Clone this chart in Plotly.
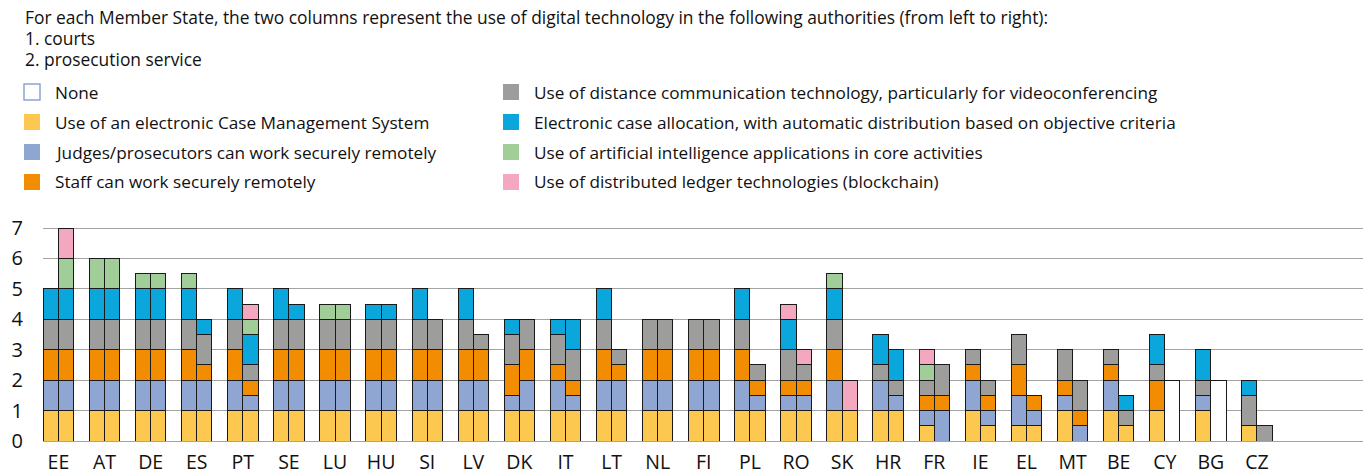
import plotly.graph_objects as go

# Member States, left to right
countries = ["EE", "AT", "DE", "ES", "PT", "SE", "LU", "HU", "SI", "LV", "DK", "IT", "LT", "NL",
             "FI", "PL", "RO", "SK", "HR", "FR", "IE", "EL", "MT", "BE", "CY", "BG", "CZ"]

# column 1 = courts, column 2 = prosecution service
cms_courts = [1, 1, 1, 1, 1, 1, 1, 1, 1, 1, 1, 1, 1, 1, 1, 1, 1, 1, 1, 0.5, 1, 0.5, 1, 1, 1, 1, 0.5]
cms_pros = [1, 1, 1, 1, 1, 1, 1, 1, 1, 1, 1, 1, 1, 1, 1, 1, 1, 1, 1, 0, 0.5, 0.5, 0, 0.5, 0, 0, 0]

judges_courts = [1, 1, 1, 1, 1, 1, 1, 1, 1, 1, 0.5, 1, 1, 1, 1, 1, 0.5, 1, 1, 0.5, 1, 1, 0.5, 1, 0, 0.5, 0]
judges_pros = [1, 1, 1, 1, 0.5, 1, 1, 1, 1, 1, 1, 0.5, 1, 1, 1, 0.5, 0.5, 0, 0.5, 1, 0.5, 0.5, 0.5, 0, 0, 0, 0]

staff_courts = [1, 1, 1, 1, 1, 1, 1, 1, 1, 1, 1, 0.5, 1, 1, 1, 1, 0.5, 1, 0, 0.5, 0.5, 1, 0.5, 0.5, 1, 0, 0]
staff_pros = [1, 1, 1, 0.5, 0.5, 1, 1, 1, 1, 1, 1, 0.5, 0.5, 1, 1, 0.5, 0.5, 0, 0, 0.5, 0.5, 0.5, 0.5, 0, 0, 0, 0]

distance_courts = [1, 1, 1, 1, 1, 1, 1, 1, 1, 1, 1, 1, 1, 1, 1, 1, 1, 1, 0.5, 0.5, 0.5, 1, 1, 0.5, 0.5, 0.5, 1]
distance_pros = [1, 1, 1, 1, 0.5, 1, 1, 1, 1, 0.5, 1, 1, 0.5, 1, 1, 0.5, 0.5, 0, 0.5, 1, 0.5, 0, 1, 0.5, 0, 0, 0.5]

ecase_courts = [1, 1, 1, 1, 1, 1, 0, 0.5, 1, 1, 0.5, 0.5, 1, 0, 0, 1, 1, 1, 1, 0, 0, 0, 0, 0, 1, 1, 0.5]
ecase_pros = [1, 1, 1, 0.5, 1, 0.5, 0, 0.5, 0, 0, 0, 1, 0, 0, 0, 0, 0, 0, 1, 0, 0, 0, 0, 0.5, 0, 0, 0]

ai_courts = [0, 1, 0.5, 0.5, 0, 0, 0.5, 0, 0, 0, 0, 0, 0, 0, 0, 0, 0, 0.5, 0, 0.5, 0, 0, 0, 0, 0, 0, 0]
ai_pros = [1, 1, 0.5, 0, 0.5, 0, 0.5, 0, 0, 0, 0, 0, 0, 0, 0, 0, 0, 0, 0, 0, 0, 0, 0, 0, 0, 0, 0]

dlt_courts = [0, 0, 0, 0, 0, 0, 0, 0, 0, 0, 0, 0, 0, 0, 0, 0, 0.5, 0, 0, 0.5, 0, 0, 0, 0, 0, 0, 0]
dlt_pros = [1, 0, 0, 0, 0.5, 0, 0, 0, 0, 0, 0, 0, 0, 0, 0, 0, 0.5, 1, 0, 0, 0, 0, 0, 0, 0, 0, 0]

none_courts = [0] * 27
none_pros = [0, 0, 0, 0, 0, 0, 0, 0, 0, 0, 0, 0, 0, 0, 0, 0, 0, 0, 0, 0, 0, 0, 0, 0, 2, 2, 0]

series = [
    ("Use of an electronic Case Management System", cms_courts, cms_pros, "#fdc84f"),
    ("Judges/prosecutors can work securely remotely", judges_courts, judges_pros, "#8fa6d2"),
    ("Staff can work securely remotely", staff_courts, staff_pros, "#f28c00"),
    ("Use of distance communication technology, particularly for videoconferencing",
     distance_courts, distance_pros, "#9d9d9c"),
    ("Electronic case allocation, with automatic distribution based on objective criteria",
     ecase_courts, ecase_pros, "#0aa6dc"),
    ("Use of artificial intelligence applications in core activities", ai_courts, ai_pros, "#a0cd98"),
    ("Use of distributed ledger technologies (blockchain)", dlt_courts, dlt_pros, "#f4a8bf"),
    ("None", none_courts, none_pros, "#ffffff"),
]

FONT = "Open Sans"
COL_W = 0.33
OFF = COL_W / 2
W, H = 1368, 475
ML, MR, MT, MB = 43, 5, 225, 34

fig = go.Figure()
n = len(countries)
for name, court, pros, color in series:
    xs = [i - OFF for i in range(n)] + [i + OFF for i in range(n)]
    ys = [v if v else None for v in court] + [v if v else None for v in pros]
    fig.add_trace(go.Bar(
        x=xs, y=ys, width=COL_W, name=name,
        marker=dict(color=color, line=dict(color="#1a1a1a", width=1)),
        showlegend=False,
    ))


# legend drawn by hand: two columns, pixel positions converted to paper coords
def px_x(p):
    return (p - ML) / (W - ML - MR)


def px_y(p):
    return (H - MB - p) / (H - MT - MB)


legend_order = [
    ("None", "#ffffff", "#8fa6d2"),
    ("Use of an electronic Case Management System", "#fdc84f", None),
    ("Judges/prosecutors can work securely remotely", "#8fa6d2", None),
    ("Staff can work securely remotely", "#f28c00", None),
    ("Use of distance communication technology, particularly for videoconferencing", "#9d9d9c", None),
    ("Electronic case allocation, with automatic distribution based on objective criteria", "#0aa6dc", None),
    ("Use of artificial intelligence applications in core activities", "#a0cd98", None),
    ("Use of distributed ledger technologies (blockchain)", "#f4a8bf", None),
]
for k, (label, fill, border) in enumerate(legend_order):
    col, row = divmod(k, 4)
    mx = 24 if col == 0 else 503
    cy = 92 + row * 30
    fig.add_shape(type="rect", xref="paper", yref="paper",
                  x0=px_x(mx), x1=px_x(mx + 16), y0=px_y(cy + 8), y1=px_y(cy - 8),
                  fillcolor=fill, line=dict(color=border or fill, width=1.5 if border else 0))
    fig.add_annotation(xref="paper", yref="paper", x=px_x(mx + 29), y=px_y(cy),
                       text=label, showarrow=False, xanchor="left", yanchor="middle",
                       font=dict(size=17.2, color="#111"))

header = ["For each Member State, the two columns represent the use of digital technology "
          "in the following authorities (from left to right):",
          "1. courts", "2. prosecution service"]
for k, line in enumerate(header):
    fig.add_annotation(xref="paper", yref="paper", x=px_x(23), y=px_y(16.5 + k * 21),
                       text=line, showarrow=False, xanchor="left", yanchor="middle",
                       font=dict(size=17.4, color="#111"))

fig.update_layout(
    width=W, height=H,
    margin=dict(l=ML, r=MR, t=MT, b=MB),
    barmode="stack",
    paper_bgcolor="white", plot_bgcolor="white",
    font=dict(family=FONT, color="#111"),
    xaxis=dict(range=[-0.335, 28.3], tickvals=list(range(n)), ticktext=countries,
               showgrid=False, zeroline=False, ticks="", ticklabelstandoff=7,
               automargin=False, tickfont=dict(size=19.5, color="#111")),
    yaxis=dict(range=[0, 7.1], dtick=1, showgrid=True, gridcolor="#a3a3a3", gridwidth=1.3,
               zeroline=True, zerolinecolor="#a3a3a3", zerolinewidth=1.3, automargin=False,
               ticks="", ticklabelstandoff=19, tickfont=dict(size=20, color="#111")),
)

fig.write_html("out.html", config={"displayModeBar": False},
               post_script="document.body.style.margin='0';")
